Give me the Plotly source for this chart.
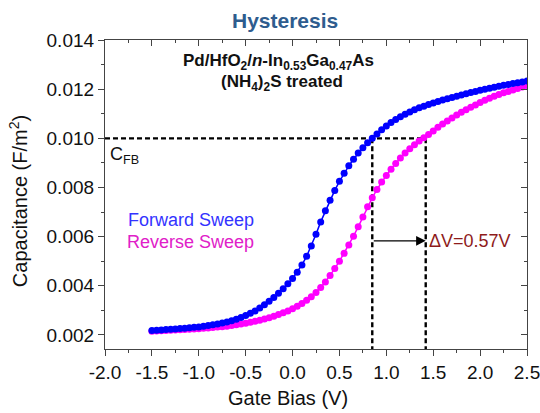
import plotly.graph_objects as go

# ---------------- data ----------------
bias_v = [round(-1.5 + 0.05 * i, 2) for i in range(81)]

forward_c = [
    0.00218, 0.00219, 0.00220, 0.00222, 0.00223, 0.00224, 0.00226, 0.00227, 0.00229, 0.00231,
    0.00233, 0.00236, 0.00239, 0.00242, 0.00245, 0.00249, 0.00253, 0.00258, 0.00264, 0.00271,
    0.00279, 0.00288, 0.00298, 0.00310, 0.00323, 0.00337, 0.00353, 0.00370, 0.00388, 0.00408,
    0.00430, 0.00455, 0.00485, 0.00520, 0.00562, 0.00610, 0.00660, 0.00705, 0.00748, 0.00788,
    0.00825, 0.00858, 0.00888, 0.00915, 0.00940, 0.00962, 0.00982, 0.01000, 0.01018, 0.01035,
    0.01050, 0.01064, 0.01077, 0.01088, 0.01098, 0.01107, 0.01116, 0.01124, 0.01131, 0.01138,
    0.01144, 0.01150, 0.01156, 0.01161, 0.01166, 0.01171, 0.01176, 0.01181, 0.01186, 0.01191,
    0.01196, 0.01200, 0.01204, 0.01208, 0.01212, 0.01216, 0.01219, 0.01223, 0.01226, 0.01229,
    0.01233,
]

reverse_c = [
    0.00215, 0.00216, 0.00217, 0.00218, 0.00219, 0.00220, 0.00221, 0.00222, 0.00223, 0.00224,
    0.00225, 0.00227, 0.00228, 0.00230, 0.00232, 0.00234, 0.00236, 0.00239, 0.00242, 0.00245,
    0.00248, 0.00252, 0.00256, 0.00260, 0.00265, 0.00270, 0.00276, 0.00283, 0.00290, 0.00298,
    0.00307, 0.00317, 0.00328, 0.00341, 0.00356, 0.00373, 0.00393, 0.00416, 0.00442, 0.00470,
    0.00500, 0.00532, 0.00566, 0.00602, 0.00640, 0.00680, 0.00722, 0.00758, 0.00792, 0.00822,
    0.00849, 0.00874, 0.00898, 0.00920, 0.00940, 0.00958, 0.00974, 0.00989, 0.01002, 0.01016,
    0.01030, 0.01045, 0.01058, 0.01071, 0.01083, 0.01095, 0.01106, 0.01116, 0.01126, 0.01136,
    0.01146, 0.01155, 0.01163, 0.01171, 0.01178, 0.01185, 0.01191, 0.01197, 0.01203, 0.01209,
    0.01215,
]

c_fb = 0.010
v_fb_forward = 0.85
v_fb_reverse = 1.42
arrow_c = 0.00583

x_range = [-2.0, 2.5]
y_range = [0.00143, 0.014]
x_tick_vals = [-2.0, -1.5, -1.0, -0.5, 0.0, 0.5, 1.0, 1.5, 2.0, 2.5]
x_tick_text = ["-2.0", "-1.5", "-1.0", "-0.5", "0.0", "0.5", "1.0", "1.5", "2.0", "2.5"]
y_tick_vals = [0.002, 0.004, 0.006, 0.008, 0.010, 0.012, 0.014]
y_tick_text = ["0.002", "0.004", "0.006", "0.008", "0.010", "0.012", "0.014"]

FONT = "Liberation Sans, Arial, sans-serif"
AXC = "#444444"

fig = go.Figure()

# dashed guide lines
fig.add_trace(go.Scatter(x=[x_range[0], v_fb_reverse], y=[c_fb, c_fb], mode="lines",
                         line=dict(color="black", width=2.4, dash="5px,3px"),
                         showlegend=False, hoverinfo="skip"))
for v in (v_fb_forward, v_fb_reverse):
    fig.add_trace(go.Scatter(x=[v, v], y=[c_fb, y_range[0]], mode="lines",
                             line=dict(color="black", width=2.4, dash="5px,3px"),
                             showlegend=False, hoverinfo="skip"))

fig.add_trace(go.Scatter(x=bias_v, y=reverse_c, mode="lines+markers",
                         line=dict(color="#FF00FF", width=1.5),
                         marker=dict(color="#FF00FF", size=7, symbol="circle"),
                         showlegend=False))
fig.add_trace(go.Scatter(x=bias_v, y=forward_c, mode="lines+markers",
                         line=dict(color="#0000FF", width=1.5),
                         marker=dict(color="#0000FF", size=7, symbol="circle"),
                         showlegend=False))

# invisible trace for the mirrored (top/right) axes
fig.add_trace(go.Scatter(x=x_range, y=y_range, xaxis="x2", yaxis="y2", mode="markers",
                         marker=dict(opacity=0), showlegend=False, hoverinfo="skip"))

axis_common = dict(showgrid=False, zeroline=False, showline=True, linecolor=AXC, linewidth=1.2,
                   tickcolor=AXC, tickwidth=1.2, automargin=False)

fig.update_layout(
    width=540, height=413,
    margin=dict(l=105, r=13, t=40, b=64),
    paper_bgcolor="white", plot_bgcolor="white",
    font=dict(family=FONT, color="#111111"),
    xaxis=dict(range=x_range, tickvals=x_tick_vals, ticktext=x_tick_text,
               ticks="outside", ticklen=6, ticklabeloverflow="allow",
               minor=dict(ticks="outside", ticklen=3, dtick=0.25, tick0=-2.0, tickcolor=AXC),
               tickfont=dict(size=19, family=FONT, color="#111111"), **axis_common),
    yaxis=dict(range=y_range, tickvals=y_tick_vals, ticktext=y_tick_text,
               ticks="outside", ticklen=6, ticklabeloverflow="allow",
               minor=dict(ticks="outside", ticklen=3, dtick=0.001, tick0=0.0, tickcolor=AXC),
               tickfont=dict(size=19, family=FONT, color="#111111"), **axis_common),
    xaxis2=dict(range=x_range, overlaying="x", side="top", anchor="y", tickvals=x_tick_vals,
                showticklabels=False, ticks="inside", ticklen=6,
                minor=dict(ticks="inside", ticklen=3, dtick=0.25, tick0=-2.0, tickcolor=AXC),
                **axis_common),
    yaxis2=dict(range=y_range, overlaying="y", side="right", anchor="x", tickvals=y_tick_vals,
                showticklabels=False, ticks="inside", ticklen=6,
                minor=dict(ticks="inside", ticklen=3, dtick=0.001, tick0=0.0, tickcolor=AXC),
                **axis_common),
)

def ann(text, x, y, size, color="#111111", xanchor="center", yanchor="middle", bold=False, textangle=0):
    if bold:
        text = "<b>" + text + "</b>"
    fig.add_annotation(text=text, x=x, y=y, xref="paper", yref="paper", showarrow=False,
                       xanchor=xanchor, yanchor=yanchor, textangle=textangle,
                       font=dict(size=size, color=color, family=FONT))

ann("Hysteresis", 0.4265, 1.063, 21, color="#2E5C8E", bold=True)
ann("Pd/HfO<sub>2</sub>/<i>n</i>-In<sub>0.53</sub>Ga<sub>0.47</sub>As", 0.41, 0.928, 17, bold=True)
ann("(NH<sub>4</sub>)<sub>2</sub>S treated", 0.419, 0.862, 17, bold=True)
ann("C<sub>FB</sub>", 0.006, 0.625, 18, xanchor="left")
ann("Forward Sweep", 0.204, 0.417, 18, color="#3333FF")
ann("Reverse Sweep", 0.203, 0.346, 18, color="#E020C8")
ann("\u0394V=0.57V", 0.762, 0.349, 18, color="#8E1B1B", xanchor="left")
ann("Gate Bias (V)", 0.434, -0.158, 20)
ann("Capacitance (F/m<sup>2</sup>)", -0.205, 0.48, 20, textangle=-90)

# delta-V arrow
fig.add_annotation(x=v_fb_reverse, y=arrow_c, ax=v_fb_forward, ay=arrow_c,
                   xref="x", yref="y", axref="x", ayref="y", text="", showarrow=True,
                   arrowhead=2, arrowsize=1.6, arrowwidth=1.2, arrowcolor="black")

fig.write_html("out.html")
